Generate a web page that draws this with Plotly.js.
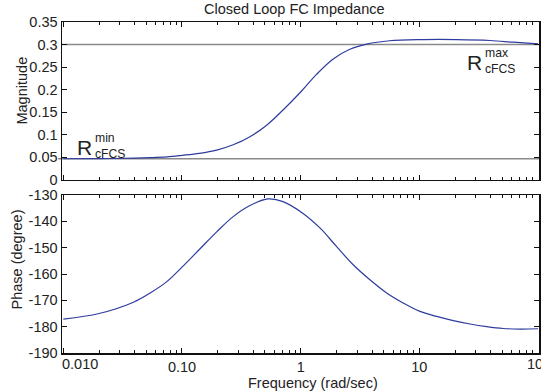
<!DOCTYPE html>
<html>
<head>
<meta charset="utf-8">
<script src="https://cdn.plot.ly/plotly-3.0.1.min.js"></script>
<style>html,body{margin:0;padding:0;background:#fff;}#chart{width:541px;height:392px;}</style>
</head>
<body>
<div id="chart"></div>
<script>
// Magnitude response
const freqMag = [0.01, 0.02, 0.04, 0.054, 0.075, 0.1, 0.14, 0.196, 0.27, 0.374, 0.52, 0.71, 1.0, 1.36, 1.88, 2.6, 3.6, 5.6, 10.8, 20.6, 39.4, 61.7, 100];
const magnitude = [0.047, 0.0473, 0.0484, 0.0494, 0.0512, 0.0545, 0.059, 0.0662, 0.078, 0.096, 0.122, 0.155, 0.195, 0.234, 0.268, 0.2895, 0.301, 0.3085, 0.311, 0.311, 0.309, 0.3053, 0.3015];
// Phase response
const freqPhase = [0.01, 0.02, 0.039, 0.054, 0.075, 0.1, 0.14, 0.196, 0.27, 0.374, 0.53, 0.71, 1.04, 1.46, 2.01, 2.77, 3.83, 5.3, 7.3, 10.1, 14, 19.3, 26.7, 36.9, 51, 70.5, 100];
const phase = [-177.1, -175.0, -170.7, -167.2, -162.8, -157.4, -150.7, -144.0, -138.2, -134.0, -131.5, -132.5, -136.9, -142.6, -149.6, -156.5, -162.2, -167.2, -171.0, -174.2, -176.1, -177.7, -179.0, -180.0, -180.7, -180.9, -180.8];
// Reference levels R_cFCS^max and R_cFCS^min
const refLevels = [0.3, 0.047];
// Tick labels
const xTickVals = [0.01, 0.1, 1, 10, 100];
const xTickText = ['', '0.10', '1', '10', ''];
const magTickVals = [0, 0.05, 0.1, 0.15, 0.2, 0.25, 0.3, 0.35];
const magTickText = ['0', '0.05', '0.1', '0.15', '0.2', '0.25', '0.3', '0.35'];
const phaseTickVals = [-190, -180, -170, -160, -150, -140, -130];
const phaseTickText = ['-190', '-180', '-170', '-160', '-150', '-140', '-130'];

const FONT = 'Liberation Sans, Arial, sans-serif';
const lineColor = '#2d3c9e';

const traces = [
  {x: freqMag, y: magnitude, xaxis: 'x', yaxis: 'y', type: 'scatter', mode: 'lines',
   line: {color: lineColor, width: 1.2, shape: 'spline', smoothing: 1}, hoverinfo: 'skip'},
  {x: freqPhase, y: phase, xaxis: 'x2', yaxis: 'y2', type: 'scatter', mode: 'lines',
   line: {color: lineColor, width: 1.2, shape: 'spline', smoothing: 1}, hoverinfo: 'skip'}
];

const xr = [-2.011, 2.008];
const commonX = {
  type: 'log', range: xr, showgrid: false, zeroline: false,
  showline: true, linecolor: '#111', linewidth: 1.5, mirror: 'ticks',
  ticks: 'inside', ticklen: 5, tickwidth: 1, tickcolor: '#111',
  tickmode: 'array', tickvals: xTickVals,
  minor: {ticks: 'inside', ticklen: 3, tickwidth: 1, tickcolor: '#111', dtick: 'D1', showgrid: false},
  tickfont: {family: FONT, size: 14.5, color: '#222'}
};
const commonY = {
  showgrid: false, zeroline: false, showline: true, linecolor: '#111', linewidth: 1.5,
  mirror: 'ticks', ticks: 'inside', ticklen: 5, tickwidth: 1, tickcolor: '#111',
  tickmode: 'array', tickfont: {family: FONT, size: 14.5, color: '#222'}
};

const shapes = refLevels.map((v, i) => ({
  type: 'line', xref: 'paper', yref: 'y', x0: i === 1 ? -0.008 : 0, x1: i === 1 ? 1.008 : 1, y0: v, y1: v,
  line: {color: '#8a8a8a', width: 1.5}, layer: 'below'
}));

const ann = (text, x, y, size, extra) => Object.assign({
  text: text, x: x, y: y, xref: 'paper', yref: 'paper', showarrow: false,
  font: {family: FONT, size: size, color: '#222'}, xanchor: 'center', yanchor: 'middle'
}, extra || {});

const layout = {
  width: 541, height: 392,
  margin: {l: 62, r: 2, t: 22, b: 39, pad: 0},
  paper_bgcolor: '#fff', plot_bgcolor: '#fff',
  showlegend: false,
  title: {text: 'Closed Loop FC Impedance', x: 0.544, xanchor: 'center', y: 0.977, yanchor: 'middle',
          font: {family: FONT, size: 14.5, color: '#222'}},
  xaxis: Object.assign({}, commonX, {anchor: 'y', domain: [0, 1], showticklabels: false}),
  yaxis: Object.assign({}, commonY, {anchor: 'x', domain: [0.5227, 1], range: [0, 0.35],
          tickvals: magTickVals, ticktext: magTickText}),
  xaxis2: Object.assign({}, commonX, {anchor: 'y2', domain: [0, 1], ticktext: xTickText}),
  yaxis2: Object.assign({}, commonY, {anchor: 'x2', domain: [0, 0.4773], range: [-190, -130],
          tickvals: phaseTickVals, ticktext: phaseTickText}),
  shapes: shapes,
  annotations: [
    ann('0.010', (80 - 62) / 477, (353 - 364) / 331, 14.5),
    ann('100', (539 - 62) / 477, (353 - 364) / 331, 14.5),
    ann('Frequency (rad/sec)', 0.527, (353 - 382.5) / 331, 14.5, {borderpad: 0}),
    ann('Magnitude', -0.0828, 0.7915, 14.5, {textangle: -90}),
    ann('Phase (degree)', -0.0933, 0.284, 14.5, {textangle: -90}),
    ann('R', (93 - 62) / 477, 0.6208, 21, {xanchor: 'right', borderpad: 0}),
    ann('min<br>cFCS', (94 - 62) / 477, (353 - 146) / 331, 12.2, {xanchor: 'left', align: 'left', borderpad: 0}),
    ann('R', (483 - 62) / 477, 0.8776, 21, {xanchor: 'right', borderpad: 0}),
    ann('max<br>cFCS', (484 - 62) / 477, (353 - 61) / 331, 12.2, {xanchor: 'left', align: 'left', borderpad: 0})
  ]
};

Plotly.newPlot('chart', traces, layout, {staticPlot: true, displayModeBar: false});
</script>
</body>
</html>
